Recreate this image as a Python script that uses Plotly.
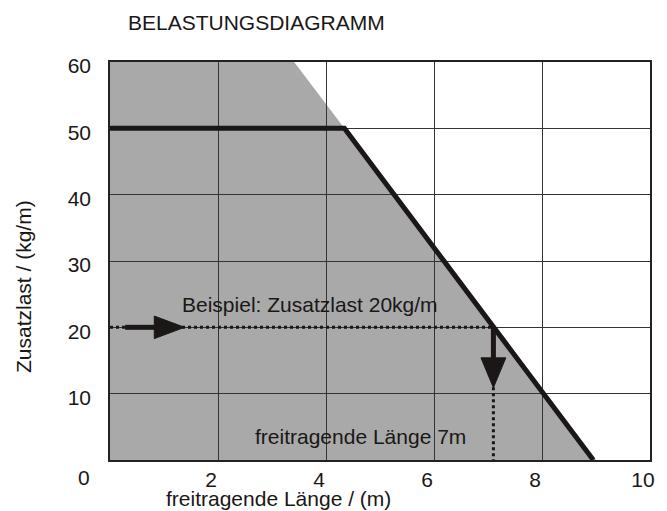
import plotly.graph_objects as go

# ---- data ----
x_ticks = [2, 4, 6, 8, 10]
x_tick_labels = ["2", "4", "6", "8", "10"]
y_ticks = [10, 20, 30, 40, 50, 60]
y_tick_labels = ["10", "20", "30", "40", "50", "60"]

zone_x = [0, 0, 3.41, 9.0]        # permissible (shaded) load zone
zone_y = [0, 60, 60, 0]
limit_x = [0, 4.34, 8.95]         # load limit curve
limit_y = [50, 50, 0]

example_load = 20                  # kg/m
example_length = 7.1               # m
h_arrow_x = [0.28, 1.38]           # tail, tip (horizontal arrow at example_load)
v_arrow_y = [20, 10.9]             # tail, tip (vertical arrow at example_length)
h_head = [0.56, 1.7]               # length (x units), half height (y units)
v_head = [4.5, 0.23]               # length (y units), half width (x units)

title_text = "BELASTUNGSDIAGRAMM"
x_title = "freitragende Länge / (m)"
y_title = "Zusatzlast / (kg/m)"
example_text = "Beispiel: Zusatzlast 20kg/m"
result_text = "freitragende Länge 7m"

FONT = "Liberation Sans, Arial, sans-serif"
INK = "#1a1716"

fig = go.Figure()

# shaded zone as a below-grid shape
path = "M " + " L ".join(f"{x},{y}" for x, y in zip(zone_x, zone_y)) + " Z"
fig.add_shape(type="path", path=path, xref="x", yref="y",
              fillcolor="#a9a9a9", line=dict(width=0), layer="below")

# dotted example lines
fig.add_trace(go.Scatter(x=[0, example_length], y=[example_load, example_load],
                         mode="lines", line=dict(color=INK, width=3, dash="dot"),
                         hoverinfo="skip"))
fig.add_trace(go.Scatter(x=[example_length, example_length], y=[example_load, -0.6],
                         mode="lines", line=dict(color=INK, width=3, dash="dot"),
                         cliponaxis=False, hoverinfo="skip"))

# limit curve
fig.add_trace(go.Scatter(x=limit_x, y=limit_y, mode="lines",
                         line=dict(color=INK, width=5), hoverinfo="skip"))

# horizontal arrow
hb = h_arrow_x[1] - h_head[0]
fig.add_trace(go.Scatter(x=[h_arrow_x[0], hb], y=[example_load, example_load],
                         mode="lines", line=dict(color=INK, width=5), hoverinfo="skip"))
fig.add_trace(go.Scatter(x=[hb, h_arrow_x[1], hb, hb],
                         y=[example_load + h_head[1], example_load, example_load - h_head[1], example_load + h_head[1]],
                         mode="lines", fill="toself", fillcolor=INK,
                         line=dict(color=INK, width=1), hoverinfo="skip"))

# vertical arrow
vb = v_arrow_y[1] + v_head[0]
fig.add_trace(go.Scatter(x=[example_length, example_length], y=[v_arrow_y[0], vb],
                         mode="lines", line=dict(color=INK, width=5), hoverinfo="skip"))
fig.add_trace(go.Scatter(x=[example_length - v_head[1], example_length, example_length + v_head[1], example_length - v_head[1]],
                         y=[vb, v_arrow_y[1], vb, vb],
                         mode="lines", fill="toself", fillcolor=INK,
                         line=dict(color=INK, width=1), hoverinfo="skip"))

# text annotations
fig.add_annotation(x=1.29, y=23.5, xref="x", yref="y", text=example_text,
                   showarrow=False, xanchor="left", yanchor="middle")
fig.add_annotation(x=2.64, y=3.5, xref="x", yref="y", text=result_text,
                   showarrow=False, xanchor="left", yanchor="middle")
fig.add_annotation(x=0.0295, y=1.1, xref="paper", yref="paper", text=title_text,
                   showarrow=False, xanchor="left", yanchor="middle")
fig.add_annotation(x=0.1015, y=-0.097, xref="paper", yref="paper", text=x_title,
                   showarrow=False, xanchor="left", yanchor="middle", borderpad=0)
fig.add_annotation(x=-0.159, y=0.435, xref="paper", yref="paper", text=y_title,
                   showarrow=False, xanchor="center", yanchor="middle", textangle=-90)
fig.add_annotation(x=-0.048, y=-0.045, xref="paper", yref="paper", text="0",
                   showarrow=False, xanchor="center", yanchor="middle")

fig.update_xaxes(range=[0, 10], tickvals=x_ticks, ticktext=x_tick_labels,
                 showgrid=True, gridcolor="#333333", gridwidth=1.2,
                 showline=True, mirror=True, linecolor="#222222", linewidth=1.5,
                 ticks="", ticklabelstandoff=0, ticklabelshift=-7, zeroline=False,
                 fixedrange=True)
fig.update_yaxes(range=[0, 60], tickvals=y_ticks, ticktext=y_tick_labels,
                 showgrid=True, gridcolor="#333333", gridwidth=1.2,
                 showline=True, mirror=True, linecolor="#222222", linewidth=1.5,
                 ticks="", ticklabelstandoff=13, ticklabelshift=4, zeroline=False,
                 fixedrange=True)

# the page body adds an 8px offset, so the figure is sized to fit the window
fig.update_layout(width=659, height=503,
                  margin=dict(l=102, r=15, t=54, b=51),
                  plot_bgcolor="white", paper_bgcolor="white",
                  showlegend=False,
                  font=dict(family=FONT, size=21, color=INK))

fig.write_html("out.html")
